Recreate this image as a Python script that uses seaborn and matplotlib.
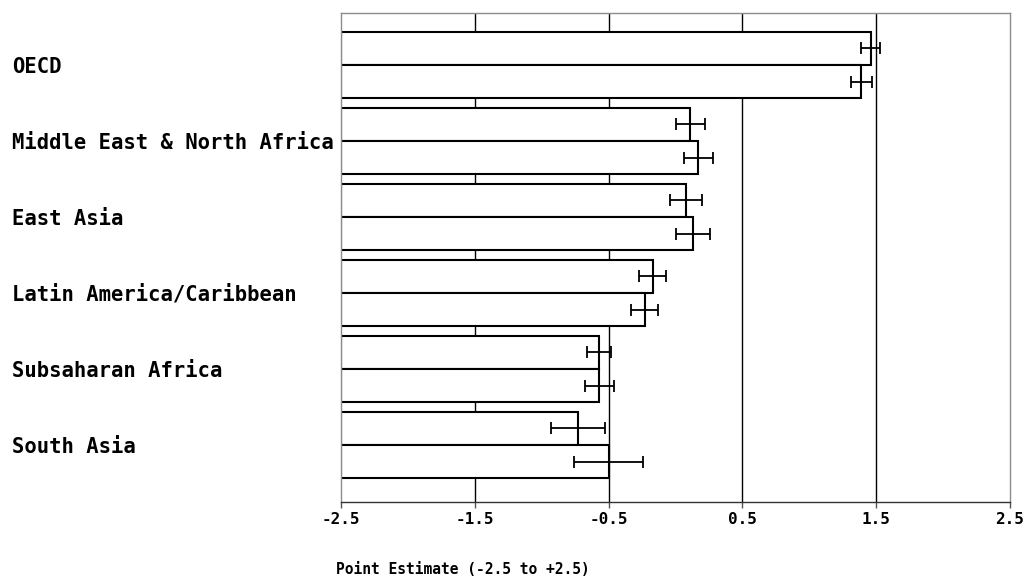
import numpy as np
import pandas as pd
import matplotlib
matplotlib.use("Agg")
import matplotlib.pyplot as plt
import seaborn as sns

regions = ["OECD", "Middle East & North Africa", "East Asia",
           "Latin America/Caribbean", "Subsaharan Africa", "South Asia"]
series = ["first", "second"]

# point estimates and half-width of the error bars
est_1 = [1.46, 0.11, 0.08, -0.17, -0.57, -0.73]
err_1 = [0.07, 0.11, 0.12, 0.10, 0.09, 0.20]
est_2 = [1.39, 0.17, 0.13, -0.23, -0.57, -0.50]
err_2 = [0.08, 0.11, 0.13, 0.10, 0.11, 0.26]

tick_vals = [-2.5, -1.5, -0.5, 0.5, 1.5, 2.5]
tick_labels = ["-2.5", "-1.5", "-0.5", "0.5", "1.5", "2.5"]
BASE = -2.5  # bars grow from the left end of the scale

df = pd.DataFrame({
    "region": regions * 2,
    "series": [series[0]] * 6 + [series[1]] * 6,
    "estimate": est_1 + est_2,
})
df["length"] = df["estimate"] - BASE

sns.set_style("white")
plt.rcParams["font.family"] = ["DejaVu Sans Mono"]
plt.rcParams["font.weight"] = "bold"
plt.rcParams["text.color"] = "black"
plt.rcParams["xtick.color"] = "black"
plt.rcParams["ytick.color"] = "black"

fig = plt.figure(figsize=(10.29, 5.80), dpi=100)
ax = fig.add_axes([341 / 1029, 78 / 580, 669 / 1029, 489 / 580])

# vertical grid lines sit behind the white bars
for t in tick_vals[1:-1]:
    ax.axvline(t - BASE, color="black", lw=1, zorder=0)

sns.barplot(data=df, x="length", y="region", hue="series", orient="h",
            order=regions, hue_order=series, palette=["white", "white"],
            saturation=1, edgecolor="black", linewidth=1.5, width=0.87,
            errorbar=None, legend=False, ax=ax, zorder=2)

for cont, est, err in zip(ax.containers, [est_1, est_2], [err_1, err_2]):
    ys = [p.get_y() + p.get_height() / 2 for p in cont]
    ax.errorbar(np.array(est) - BASE, ys, xerr=err, fmt="none",
                ecolor="black", elinewidth=1.3, capsize=4.3, capthick=1.3,
                zorder=3)

ax.set_xlim(0, 5)
ax.set_xticks([t - BASE for t in tick_vals])
ax.set_xticklabels(tick_labels, fontsize=11.5, fontweight="bold")
ax.set_ylim(5.75, -0.684)
ax.set_xlabel("")
ax.set_ylabel("")

for side in ["top", "left", "right"]:
    ax.spines[side].set_color("#8c8c8c")
    ax.spines[side].set_linewidth(1)
ax.spines["bottom"].set_color("#333333")
ax.spines["bottom"].set_linewidth(1)

ax.tick_params(axis="x", direction="out", length=4, width=1,
               color="#555555", pad=3, bottom=True)
ax.tick_params(axis="y", length=0, pad=237, labelsize=14.8)
for lab in ax.get_yticklabels():
    lab.set_ha("left")
    lab.set_fontweight("bold")
    lab.set_color("black")

fig.text(336 / 1029, 1 - 569 / 580, "Point Estimate (-2.5 to +2.5)",
         ha="left", va="center", fontsize=10.5, fontweight="bold",
         color="black")

fig.savefig("out.png", dpi=100)
